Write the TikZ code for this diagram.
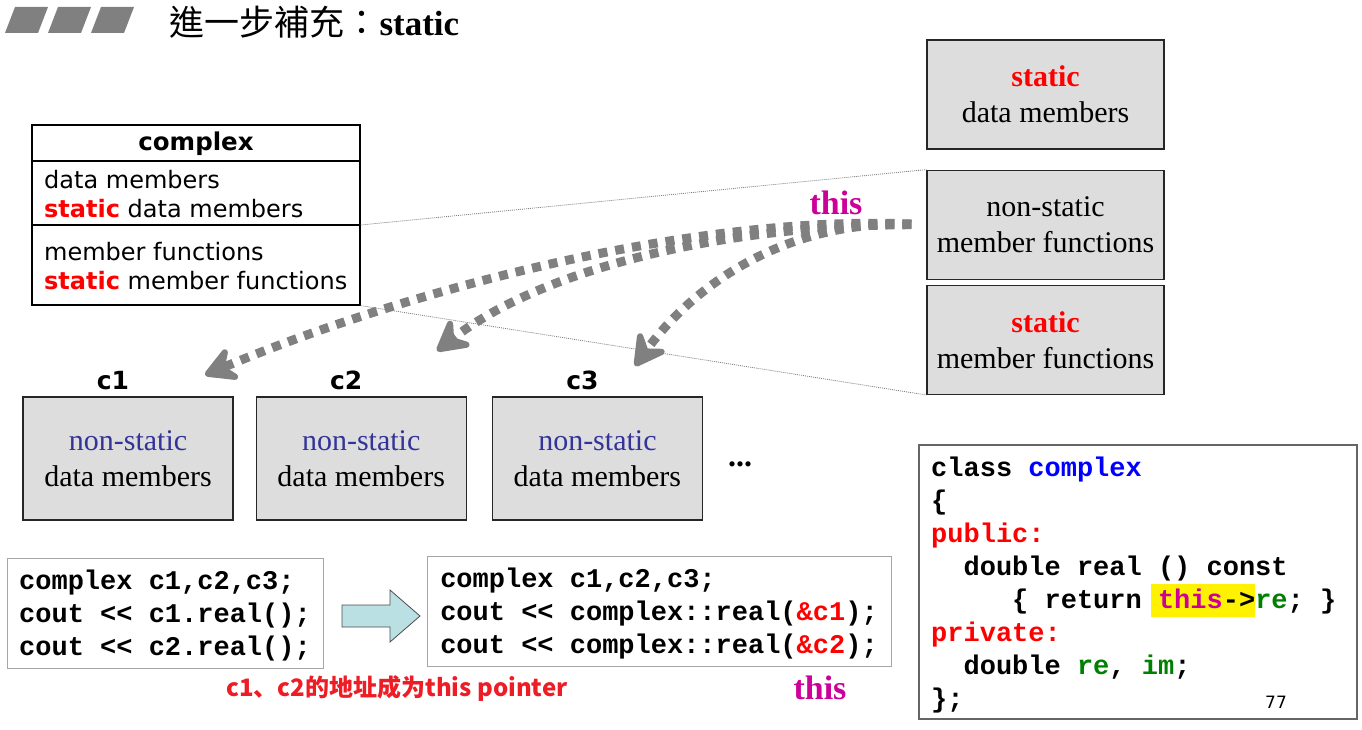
\documentclass[tikz,border=0pt]{standalone}
\usepackage{fontspec}
\setmainfont{Liberation Serif}
\setsansfont{DejaVu Sans}
\setmonofont{Liberation Mono}
\newfontfamily\cjktc{Noto Sans CJK TC}
\newfontfamily\cjksc{Noto Sans CJK SC}
\usetikzlibrary{positioning,arrows.meta}
\definecolor{boxgray}{HTML}{DDDDDD}
\definecolor{dotgray}{HTML}{808080}
\definecolor{thismag}{HTML}{CC0099}
\definecolor{nsblue}{HTML}{333399}
\definecolor{codegreen}{HTML}{008000}
\definecolor{arrowcyan}{HTML}{BBE0E3}
\definecolor{notered}{HTML}{EE1C25}
\newcommand\hlthis[1]{\hspace*{-7pt}{\setlength{\fboxsep}{0pt}\colorbox{yellow}{\rule[-8pt]{0pt}{33pt}\hspace*{7pt}#1}}}
\begin{document}
\begin{tikzpicture}[
	x=1pt, y=-1pt,
	objbox/.style={draw=black!85, fill=boxgray, line width=1.2pt, minimum width=210pt, minimum height=123pt, align=center, font=\fontsize{30}{36}\selectfont},
	membox/.style={objbox, minimum width=237pt, minimum height=109pt},
	objlabel/.style={font=\sffamily\bfseries\fontsize{25}{25}\selectfont, xshift=-15pt, yshift=3pt},
	clstext/.style={anchor=west, align=left, inner sep=0pt, font=\sffamily\fontsize{24}{29}\selectfont},
	codebox/.style={draw=black!35, fill=white, line width=1pt, align=left, font=\ttfamily\bfseries\fontsize{27}{33}\selectfont},
	codetext/.style={align=left, inner sep=0pt, font=\ttfamily\bfseries\fontsize{27}{33}\selectfont},
	thislabel/.style={text=thismag, font=\bfseries\fontsize{34}{34}\selectfont},
	thisarrow/.style={dotgray, line width=9pt, dash pattern=on 9pt off 8pt, shorten <=15pt, -{Stealth[length=40pt,width=44pt,inset=15pt,round]}},
	guide/.style={dotgray, line width=0.8pt, dash pattern=on 1pt off 1pt},
	]
\useasboundingbox (0,0) rectangle (1362,730);

% title
\foreach \i in {0,1,2}
  \fill[dotgray] ({5+43*\i},33) -- ++(33,0) -- ++(10,-26) -- ++(-33,0) -- cycle;
\node[anchor=west, font=\fontsize{35}{35}\selectfont] (title) at (166,22) {\cjktc 進一步補充：{\rmfamily\bfseries static}};

% class box
\node[draw, line width=1.2pt, minimum width=328pt, minimum height=180pt] (cls) at (196,215) {};
\draw[line width=1.2pt] (cls.west |- 0,161) -- (cls.east |- 0,161);
\draw[line width=1.2pt] (cls.west |- 0,225) coordinate (div1) -- (cls.east |- 0,225) coordinate (div2);
\node[font=\sffamily\bfseries\fontsize{24.5}{24.5}\selectfont] (clsname) at (196,144) {complex};
\node[clstext] (dm) at (44,194) {data members\\\textcolor{red}{\bfseries static} data members};
\node[clstext] (mf) at (44,266) {member functions\\\textcolor{red}{\bfseries static} member functions};

% shared parts
\node[membox] (sdm) at (1045.5,94.5) {\textcolor{red}{\bfseries static}\\data members};
\node[membox, below=20pt of sdm] (nsmf) {non-static\\member functions};
\node[membox, below=5pt of nsmf] (smf) {\textcolor{red}{\bfseries static}\\member functions};

% objects
\node[objbox, label={[objlabel]above:c1}] (c1) at (128,458.5) {\textcolor{nsblue}{non-static}\\data members};
\node[objbox, right=22pt of c1, label={[objlabel]above:c2}] (c2) {\textcolor{nsblue}{non-static}\\data members};
\node[objbox, right=25pt of c2, label={[objlabel]above:c3}] (c3) {\textcolor{nsblue}{non-static}\\data members};
\node[font=\bfseries\fontsize{32}{32}\selectfont] (more) at (740,464) {...};

\draw[guide] (div2) -- (nsmf.north west);
\draw[guide] (cls.south east) -- (smf.south west);

% this arrows
\coordinate (t1) at (205,375);
\coordinate (t2) at (437,351);
\coordinate (t3) at (635,366);
\draw[thisarrow] (nsmf.west) .. controls (700,215) and (420,285) .. (t1);
\draw[thisarrow] (nsmf.west) .. controls (720,225) and (540,270) .. (t2);
\draw[thisarrow] (nsmf.west) .. controls (780,220) and (690,290) .. (t3);
\node[thislabel] (thisup) at (836,203) {this};

% calls
\node[codebox, minimum width=316pt, minimum height=110pt] (src) at (165,613) {\rule{0pt}{24pt}complex c1,c2,c3;\\cout << c1.real();\\cout << c2.real();};
\node[codebox, minimum width=464pt, minimum height=110pt] (dst) at (659,611) {\rule{0pt}{24pt}complex c1,c2,c3;\\cout << complex::real(\textcolor{red}{\&c1});\\cout << complex::real(\textcolor{red}{\&c2});};
\filldraw[fill=arrowcyan, draw=black!70, line width=0.8pt] (342,605) -- (390,605) -- (390,590) -- (420,616) -- (390,642) -- (390,627) -- (342,627) -- cycle;
\node[font=\cjksc\bfseries\fontsize{24}{24}\selectfont, text=notered] (note) at (397,689) {c1、c2的地址成为this pointer};
\node[thislabel] (thisdown) at (820,688) {this};

% class source
\node[draw=black!60, line width=1.5pt, fill=white, minimum width=438pt, minimum height=274pt] (srcbox) at (1138,582) {};
\node[codetext, anchor=north west] (code) at (931,457) {class \textcolor{blue}{complex}\\
\{\\
\textcolor{red}{public:}\\
\phantom{xx}double real () const\\
\phantom{xxxxx}\{ return \hlthis{\textcolor{thismag}{this}->}\textcolor{codegreen}{re}; \}\\
\textcolor{red}{private:}\\
\phantom{xx}double \textcolor{codegreen}{re}, \textcolor{codegreen}{im};\\
\};};
\node[font=\sffamily\fontsize{17}{17}\selectfont] (page) at (1276,702) {77};
\end{tikzpicture}
\end{document}
